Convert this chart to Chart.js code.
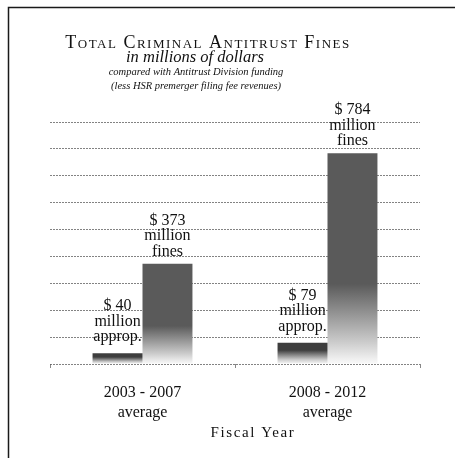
<!DOCTYPE html>
<html>
<head>
<meta charset="utf-8">
<script src="https://cdn.jsdelivr.net/npm/chart.js@4/dist/chart.umd.min.js"></script>
<style>
html,body{margin:0;padding:0;background:#fff;}
canvas{display:block;}
</style>
</head>
<body>
<canvas id="c" width="455" height="458"></canvas>
<script>
// ---- data ----
const categories = [['2003 - 2007', 'average'], ['2008 - 2012', 'average']];
const appropriations = [40, 79];
const fines = [373, 784];
const yMax = 900;
const yStep = 100;
const titleLines = ['Total Criminal Antitrust Fines', 'in millions of dollars',
  'compared with Antitrust Division funding', '(less HSR premerger filing fee revenues)'];
const axisTitle = 'Fiscal Year';
const appropWords = ['million', 'approp.'];
const finesWords = ['million', 'fines'];

const SERIF = "'Liberation Serif', 'Times New Roman', serif";

function barGradient(ctx, topColor, darkStop, fadeStop) {
  const chart = ctx.chart;
  if (!chart.chartArea || !chart.scales.y) return topColor;
  const y = chart.scales.y;
  const v = ctx.raw;
  const top = y.getPixelForValue(v);
  const bot = y.getPixelForValue(0);
  if (!isFinite(top) || !isFinite(bot) || bot - top < 1) return topColor;
  const g = chart.ctx.createLinearGradient(0, top, 0, bot);
  g.addColorStop(0, topColor);
  g.addColorStop(darkStop, topColor);
  g.addColorStop(fadeStop, 'rgba(205,205,205,1)');
  g.addColorStop(1, 'rgba(250,250,250,1)');
  return g;
}

const decorPlugin = {
  id: 'decor',
  beforeDraw(chart) {
    const c = chart.ctx;
    c.save();
    c.fillStyle = '#fff';
    c.fillRect(0, 0, chart.width, chart.height);
    c.strokeStyle = '#1a1a1a';
    c.lineWidth = 1.5;
    c.beginPath();
    c.moveTo(8.5, chart.height);
    c.lineTo(8.5, 7.5);
    c.lineTo(chart.width, 7.5);
    c.stroke();
    c.restore();
  },
  afterDatasetsDraw(chart) {
    const c = chart.ctx;
    c.save();
    c.fillStyle = '#111';
    c.textAlign = 'center';
    c.textBaseline = 'alphabetic';
    c.font = '16px ' + SERIF;
    chart.data.datasets.forEach((ds, di) => {
      const meta = chart.getDatasetMeta(di);
      const words = di === 0 ? appropWords : finesWords;
      const gap = di === 0 ? 12 : 8;
      meta.data.forEach((el, i) => {
        const lines = ['$ ' + ds.data[i], words[0], words[1]];
        let base = el.y - gap;
        for (let k = lines.length - 1; k >= 0; k--) {
          c.fillText(lines[k], el.x, base);
          base -= 15.5;
        }
      });
    });
    c.restore();
  },
  afterDraw(chart) {
    const c = chart.ctx;
    c.save();
    c.fillStyle = '#111';
    c.textAlign = 'center';
    c.textBaseline = 'middle';
    c.font = 'small-caps 18px ' + SERIF;
    try { c.fontVariantCaps = 'small-caps'; } catch (e) {}
    try { c.letterSpacing = '1.5px'; } catch (e) {}
    c.fillText(titleLines[0], 208, 43);
    try { c.fontVariantCaps = 'normal'; } catch (e) {}
    try { c.letterSpacing = '0px'; } catch (e) {}
    c.font = 'italic 16.5px ' + SERIF;
    c.fillText(titleLines[1], 195, 58);
    c.font = 'italic 10.5px ' + SERIF;
    c.fillText(titleLines[2], 196, 72);
    c.fillText(titleLines[3], 196, 86);
    c.font = '15px ' + SERIF;
    try { c.letterSpacing = '1.6px'; } catch (e) {}
    c.fillText(axisTitle, 253, 433);
    c.restore();
  }
};

new Chart(document.getElementById('c'), {
  type: 'bar',
  data: {
    labels: categories,
    datasets: [
      {
        label: 'Appropriations',
        data: appropriations,
        backgroundColor: (ctx) => barGradient(ctx, '#3e3e3e', 0.35, 0.8),
        categoryPercentage: 0.54,
        barPercentage: 1.0,
        borderWidth: 0
      },
      {
        label: 'Fines',
        data: fines,
        backgroundColor: (ctx) => barGradient(ctx, '#5a5a5a', 0.62, 0.9),
        categoryPercentage: 0.54,
        barPercentage: 1.0,
        borderWidth: 0
      }
    ]
  },
  options: {
    responsive: false,
    animation: false,
    devicePixelRatio: 1,
    layout: { padding: { top: 122, left: 50, right: 35, bottom: 20 } },
    plugins: {
      legend: { display: false },
      tooltip: { enabled: false },
      title: { display: false }
    },
    scales: {
      x: {
        grid: { display: true, drawOnChartArea: false, drawTicks: true, tickLength: 4, color: '#888', offset: true },
        border: { display: false },
        ticks: {
          color: '#111',
          font: { family: SERIF, size: 16, lineHeight: 1.25 },
          padding: 15,
          maxRotation: 0
        }
      },
      y: {
        min: 0,
        max: yMax,
        ticks: { display: false, stepSize: yStep },
        grid: { color: 'rgba(90,90,90,0.75)', lineWidth: 1, drawTicks: false },
        border: { display: false, dash: [2, 1] }
      }
    }
  },
  plugins: [decorPlugin]
});
</script>
</body>
</html>
